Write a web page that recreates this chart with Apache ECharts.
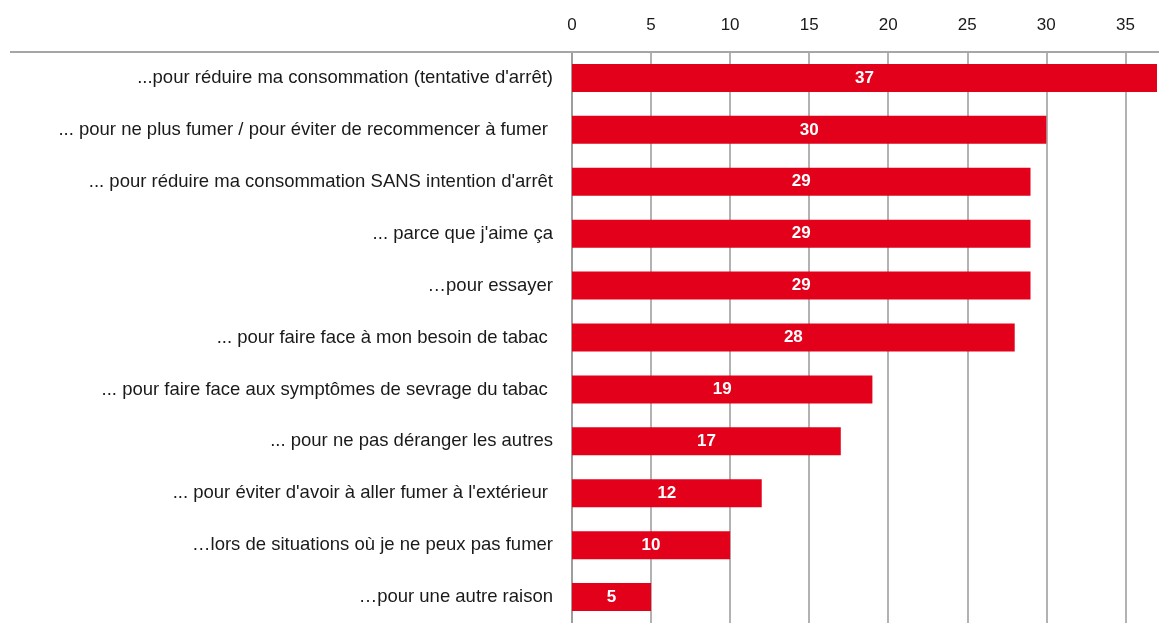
<!DOCTYPE html>
<html>
<head>
<meta charset="utf-8">
<script src="https://cdn.jsdelivr.net/npm/echarts@6/dist/echarts.min.js"></script>
<style>
  html, body { margin: 0; padding: 0; background: #fff; }
  #chart { width: 1159px; height: 623px; }
</style>
</head>
<body>
<div id="chart"></div>
<script>
// catégories (de haut en bas)
const categories = [
  "...pour réduire ma consommation (tentative d'arrêt)",
  "... pour ne plus fumer / pour éviter de recommencer à fumer ",
  "... pour réduire ma consommation SANS intention d'arrêt",
  "... parce que j'aime ça",
  "…pour essayer",
  "... pour faire face à mon besoin de tabac ",
  "... pour faire face aux symptômes de sevrage du tabac ",
  "... pour ne pas déranger les autres",
  "... pour éviter d'avoir à aller fumer à l'extérieur ",
  "…lors de situations où je ne peux pas fumer",
  "…pour une autre raison"
]
const values = [37, 30, 29, 29, 29, 28, 19, 17, 12, 10, 5]
const xTicks = [0, 5, 10, 15, 20, 25, 30, 35]

const chart = echarts.init(document.getElementById('chart'))

chart.setOption({
  animation: false,
  textStyle: { fontFamily: 'Liberation Sans, Arial, sans-serif' },
  grid: { left: 572, right: 2, top: 52, bottom: -6, containLabel: false },
  graphic: [{
    type: 'line',
    shape: { x1: 10, y1: 52, x2: 1159, y2: 52 },
    style: { stroke: '#a6a6a6', lineWidth: 2 },
    z: 10
  }],
  xAxis: {
    type: 'value',
    position: 'top',
    min: 0,
    max: 37,
    interval: 5,
    axisLine: { show: false },
    axisTick: { show: false },
    axisLabel: {
      margin: 18,
      fontSize: 17,
      color: '#1a1a1a',
      formatter: v => xTicks.includes(v) ? String(v) : '',
      showMaxLabel: false
    },
    splitLine: { show: true, showMaxLine: false, lineStyle: { color: '#999', width: 1.5 } }
  },
  yAxis: {
    type: 'category',
    inverse: true,
    data: categories,
    axisLine: { show: true, lineStyle: { color: '#999', width: 1.5 } },
    axisTick: { show: false },
    axisLabel: { margin: 19, fontSize: 18.5, color: '#1a1a1a' }
  },
  series: [{
    type: 'bar',
    data: values,
    barWidth: 28,
    itemStyle: { color: '#e3001b' },
    label: {
      show: true,
      position: 'inside',
      color: '#fff',
      fontWeight: 'bold',
      fontSize: 17
    }
  }]
})
</script>
</body>
</html>
